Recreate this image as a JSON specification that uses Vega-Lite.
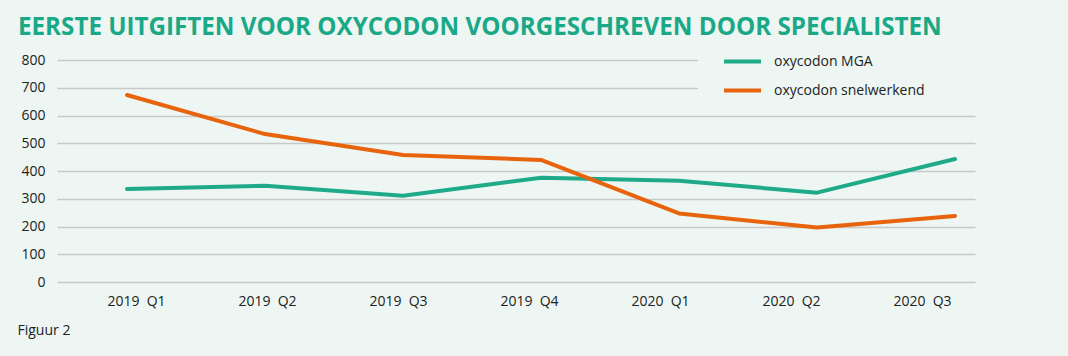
{
  "$schema": "https://vega.github.io/schema/vega-lite/v6.json",
  "width": 918,
  "height": 222,
  "autosize": {"type": "none"},
  "padding": {"left": 57, "top": 60, "right": 93, "bottom": 74},
  "background": "#edf6f2",
  "config": {"view": {"stroke": null}, "font": "Open Sans"},
  "title": {
    "text": "EERSTE UITGIFTEN VOOR OXYCODON VOORGESCHREVEN DOOR SPECIALISTEN",
    "anchor": "start",
    "frame": "group",
    "dx": -39,
    "dy": 20,
    "offset": 0,
    "baseline": "alphabetic",
    "fontSize": 24.2,
    "font": "Open Sans",
    "fontWeight": "bold",
    "color": "#1aa886"
  },
  "data": {
    "values": [
      {"kwartaal": "2019 Q1", "reeks": "oxycodon MGA", "aantal": 335},
      {"kwartaal": "2019 Q2", "reeks": "oxycodon MGA", "aantal": 347},
      {"kwartaal": "2019 Q3", "reeks": "oxycodon MGA", "aantal": 311},
      {"kwartaal": "2019 Q4", "reeks": "oxycodon MGA", "aantal": 376},
      {"kwartaal": "2020 Q1", "reeks": "oxycodon MGA", "aantal": 365},
      {"kwartaal": "2020 Q2", "reeks": "oxycodon MGA", "aantal": 322},
      {"kwartaal": "2020 Q3", "reeks": "oxycodon MGA", "aantal": 443},
      {"kwartaal": "2019 Q1", "reeks": "oxycodon snelwerkend", "aantal": 674},
      {"kwartaal": "2019 Q2", "reeks": "oxycodon snelwerkend", "aantal": 533},
      {"kwartaal": "2019 Q3", "reeks": "oxycodon snelwerkend", "aantal": 458},
      {"kwartaal": "2019 Q4", "reeks": "oxycodon snelwerkend", "aantal": 440},
      {"kwartaal": "2020 Q1", "reeks": "oxycodon snelwerkend", "aantal": 247},
      {"kwartaal": "2020 Q2", "reeks": "oxycodon snelwerkend", "aantal": 196},
      {"kwartaal": "2020 Q3", "reeks": "oxycodon snelwerkend", "aantal": 238}
    ]
  },
  "mark": {"type": "line", "strokeWidth": 4, "strokeCap": "round", "strokeJoin": "round"},
  "encoding": {
    "x": {
      "field": "kwartaal",
      "type": "ordinal",
      "sort": null,
      "scale": {"type": "point", "padding": 0.326, "align": 0.778},
      "axis": {
        "title": "Figuur 2",
        "titleAnchor": "start",
        "titleX": -40,
        "titleY": 52,
        "titleBaseline": "alphabetic",
        "titleAlign": "left",
        "titleFontSize": 14,
        "titleFontWeight": "normal",
        "titleColor": "#222222",
        "domain": false,
        "ticks": false,
        "grid": false,
        "labelAngle": 0,
        "labelPadding": 12,
        "labelFontSize": 14,
        "labelColor": "#222222",
        "labelExpr": "replace(datum.label, ' ', '\u00a0\u00a0')",
        "labelOffset": {"expr": "9 - 42 * datum.index"}
      }
    },
    "y": {
      "field": "aantal",
      "type": "quantitative",
      "scale": {"domain": [0, 800]},
      "axis": {
        "title": null,
        "domain": false,
        "ticks": false,
        "values": [0, 100, 200, 300, 400, 500, 600, 700, 800],
        "labelPadding": 12,
        "labelFontSize": 14,
        "labelColor": "#222222",
        "gridColor": "#c8c8c8",
        "gridWidth": 1.5
      }
    },
    "color": {
      "field": "reeks",
      "type": "nominal",
      "scale": {"domain": ["oxycodon MGA", "oxycodon snelwerkend"], "range": ["#1fab8a", "#e8640c"]},
      "legend": {
        "title": "\u00a0",
        "titleOrient": "right",
        "titlePadding": 60,
        "orient": "none",
        "legendX": 641,
        "legendY": -21,
        "direction": "vertical",
        "symbolType": "stroke",
        "symbolSize": 1369,
        "symbolStrokeWidth": 4,
        "symbolOffset": 22,
        "padding": 2,
        "rowPadding": -9,
        "labelFontSize": 14,
        "labelColor": "#222222",
        "labelOffset": 11,
        "fillColor": "#edf6f2",
        "strokeColor": null
      }
    }
  }
}
